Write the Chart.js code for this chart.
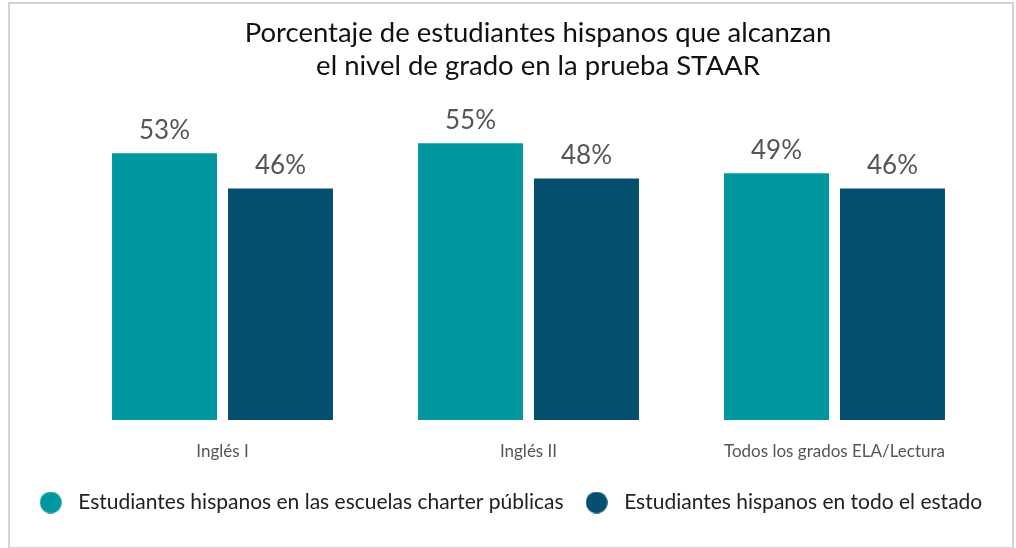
<!DOCTYPE html>
<html lang="es">
<head>
<meta charset="utf-8">
<script src="https://cdn.jsdelivr.net/npm/chart.js@4.4.1/dist/chart.umd.min.js"></script>
<style>
  html, body { margin: 0; padding: 0; background: #fff; }
  #wrap { position: relative; width: 1016px; height: 548px; }
  #frame { position: absolute; left: 8px; top: 2px; width: 1002px; height: 543px; border: 2px solid #d4d4d4; pointer-events: none; }
</style>
</head>
<body>
<div id="wrap">
  <canvas id="chart" width="1016" height="548"></canvas>
  <div id="frame"></div>
</div>
<script>
// datos
const categorias = ["Inglés I", "Inglés II", "Todos los grados ELA/Lectura"];
const charterPublicas = [53, 55, 49];
const todoEstado = [46, 48, 46];
const series = [
  "Estudiantes hispanos en las escuelas charter públicas",
  "Estudiantes hispanos en todo el estado"
];
const colores = ["#00979F", "#044E6E"];

const FONT = "Lato, 'Open Sans', sans-serif";

// círculo de la leyenda como imagen (para dejar más aire entre punto y texto)
function dot(color) {
  const c = document.createElement("canvas");
  c.width = 22; c.height = 22;
  const g = c.getContext("2d");
  g.fillStyle = color;
  g.beginPath();
  g.arc(11, 11, 10.8, 0, Math.PI * 2);
  g.fill();
  return c;
}
const dots = colores.map(dot);

// etiquetas de porcentaje encima de cada barra
const valueLabels = {
  id: "valueLabels",
  afterDatasetsDraw(chart) {
    const ctx = chart.ctx;
    ctx.save();
    ctx.font = "26px " + FONT;
    ctx.fillStyle = "#555555";
    ctx.textAlign = "center";
    ctx.textBaseline = "middle";
    chart.data.datasets.forEach((ds, i) => {
      chart.getDatasetMeta(i).data.forEach((bar, j) => {
        ctx.fillText(ds.data[j] + "%", bar.x, bar.y - 23);
      });
    });
    ctx.restore();
  }
};

// el título va un poco a la derecha del centro
const nudge = {
  id: "nudge",
  afterLayout(chart) {
    chart.titleBlock.left += 30; chart.titleBlock.right += 30;
  }
};

// ejes invisibles que solo reservan margen a los lados
const spacer = w => ({
  display: true,
  grid: { display: false, drawTicks: false },
  border: { display: false },
  ticks: { display: false },
  afterFit: s => { s.width = w; }
});

new Chart(document.getElementById("chart").getContext("2d"), {
  type: "bar",
  data: {
    labels: categorias,
    datasets: [
      { label: series[0], data: charterPublicas, backgroundColor: colores[0], borderWidth: 0 },
      { label: series[1], data: todoEstado, backgroundColor: colores[1], borderWidth: 0 }
    ]
  },
  options: {
    responsive: false,
    animation: false,
    devicePixelRatio: 1,
    categoryPercentage: 0.758,
    barPercentage: 0.905,
    layout: { padding: { left: 9, right: 9, top: 0, bottom: 25 } },
    plugins: {
      title: {
        display: true,
        text: ["Porcentaje de estudiantes hispanos que alcanzan", "el nivel de grado en la prueba STAAR"],
        color: "#111111",
        font: { family: FONT, size: 27.5, weight: "normal", lineHeight: 1.2 },
        padding: { top: 17, bottom: 35 }
      },
      legend: {
        position: "bottom",
        labels: {
          usePointStyle: true,
          pointStyleWidth: 34,
          boxHeight: 15,
          color: "#222222",
          padding: 16,
          font: { family: FONT, size: 21 },
          generateLabels(chart) {
            const items = Chart.defaults.plugins.legend.labels.generateLabels(chart);
            items.forEach((it, i) => { it.pointStyle = dots[i]; });
            return items;
          }
        }
      },
      tooltip: { enabled: false }
    },
    scales: {
      x: {
        grid: { display: false, drawTicks: false },
        border: { display: false },
        ticks: { color: "#555555", padding: 21, font: { family: FONT, size: 17 } },
        afterFit: s => { s.height = 56; }
      },
      y: Object.assign(spacer(60.5), { position: "left", min: 0, max: 60 }),
      y2: Object.assign(spacer(19.5), { position: "right", min: 0, max: 60 })
    }
  },
  plugins: [valueLabels, nudge]
});
</script>
</body>
</html>
